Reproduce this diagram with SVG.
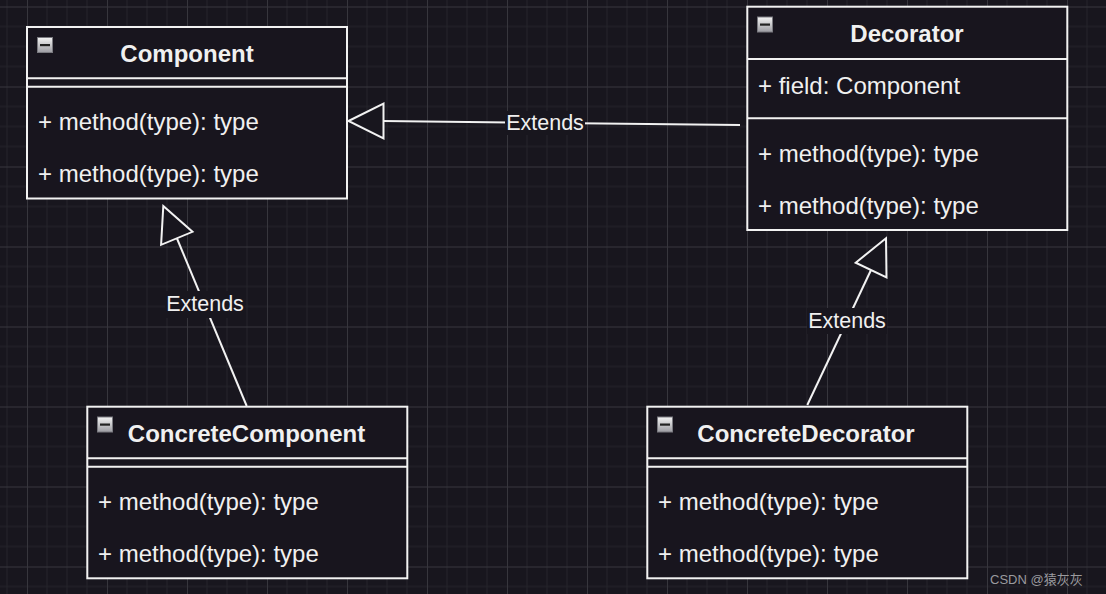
<svg xmlns="http://www.w3.org/2000/svg" width="1106" height="594" viewBox="0 0 1106 594">
<style>
.box{fill:#18151e;stroke:#f2f2f2;stroke-width:2}
.div{stroke:#f2f2f2;stroke-width:2;fill:none}
.title{font-family:"Liberation Sans",Arial,sans-serif;font-weight:bold;font-size:24px;fill:#f0f0f0;text-anchor:middle}
.mem{font-family:"Liberation Sans",Arial,sans-serif;font-size:24px;fill:#f0f0f0}
.lbl{font-family:"Liberation Sans",Arial,sans-serif;font-size:21.5px;fill:#f0f0f0;text-anchor:middle}
.edge{stroke:#f2f2f2;stroke-width:2;fill:none}
.tri{stroke:#f2f2f2;stroke-width:2;fill:#18161e;stroke-linejoin:miter}
.lblbg{fill:#18161e}
</style>
<defs>
<pattern id="grid" x="27" y="6.5" width="80" height="80" patternUnits="userSpaceOnUse">
<rect width="80" height="80" fill="#18161e"/>
<path d="M20 0V80M40 0V80M60 0V80M0 20H80M0 40H80M0 60H80" stroke="#25242b" stroke-width="1"/>
<path d="M0.5 0V80M0 0.5H80" stroke="#37363d" stroke-width="1"/>
</pattern>
<linearGradient id="ig" x1="0" y1="0" x2="0" y2="1">
<stop offset="0" stop-color="#f4f4f4"/>
<stop offset="1" stop-color="#9c9ca2"/>
</linearGradient>
<g id="icon">
<rect x="0.5" y="0.5" width="15" height="15" fill="url(#ig)" stroke="#7a7a80" stroke-width="1"/>
<rect x="3" y="7" width="10" height="2.2" fill="#222"/>
</g>
</defs>
<rect width="1106" height="594" fill="url(#grid)"/>

<g id="connectors">
<g id="e1">
<line class="edge" x1="740" y1="125" x2="383" y2="121"/>
<polygon class="tri" points="348.5,121 383.5,103.5 383.5,138.5"/>
<rect class="lblbg" x="505" y="111" width="80" height="24"/>
<text class="lbl" x="545" y="130">Extends</text>
</g>
<g id="e2">
<line class="edge" x1="246.7" y1="406" x2="177" y2="238.5"/>
<polygon class="tri" points="163.3,206 192.5,231.8 161.1,244.8"/>
<rect class="lblbg" x="165" y="291" width="80" height="27"/>
<text class="lbl" x="205" y="311">Extends</text>
</g>
<g id="e3">
<line class="edge" x1="807.3" y1="405" x2="871" y2="270"/>
<polygon class="tri" points="886,238.3 886.5,277.3 855.7,262.7"/>
<rect class="lblbg" x="807" y="308" width="80" height="26"/>
<text class="lbl" x="847" y="328">Extends</text>
</g>
</g>

<g id="component">
<rect class="box" x="27" y="27" width="320" height="171.5"/>
<path class="div" d="M27 78.3H347M27 86.7H347"/>
<use href="#icon" x="37" y="37"/>
<text class="title" x="187" y="62">Component</text>
<text class="mem" x="38" y="130">+ method(type): type</text>
<text class="mem" x="38" y="182">+ method(type): type</text>
</g>

<g id="decorator">
<rect class="box" x="747.3" y="6.7" width="320" height="223.3"/>
<path class="div" d="M747.3 59H1067.3M747.3 118.3H1067.3"/>
<use href="#icon" x="757" y="16.5"/>
<text class="title" x="907" y="42">Decorator</text>
<text class="mem" x="758" y="94">+ field: Component</text>
<text class="mem" x="758" y="162">+ method(type): type</text>
<text class="mem" x="758" y="214">+ method(type): type</text>
</g>

<g id="concreteComponent">
<rect class="box" x="87.3" y="406.7" width="320" height="171.6"/>
<path class="div" d="M87.3 458.3H407.3M87.3 466.7H407.3"/>
<use href="#icon" x="97" y="416.5"/>
<text class="title" x="246.5" y="442">ConcreteComponent</text>
<text class="mem" x="98" y="510">+ method(type): type</text>
<text class="mem" x="98" y="562">+ method(type): type</text>
</g>

<g id="concreteDecorator">
<rect class="box" x="647.3" y="406.7" width="320" height="171.6"/>
<path class="div" d="M647.3 458.3H967.3M647.3 466.7H967.3"/>
<use href="#icon" x="657" y="416.5"/>
<text class="title" x="806" y="442">ConcreteDecorator</text>
<text class="mem" x="658" y="510">+ method(type): type</text>
<text class="mem" x="658" y="562">+ method(type): type</text>
</g>

<text x="990" y="584" font-family="'Liberation Sans','Noto Sans CJK SC',sans-serif" font-size="13" fill="#9a9a9e">CSDN @猿灰灰</text>
</svg>
